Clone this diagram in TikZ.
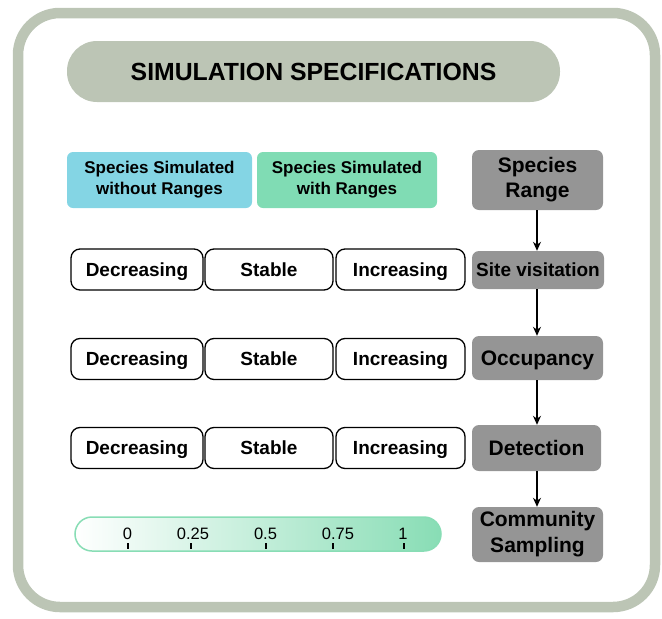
\documentclass[tikz,border=0pt]{standalone}
\usepackage{fontspec}
\setmainfont{Liberation Sans}
\usetikzlibrary{arrows.meta}
\definecolor{frame}{HTML}{BCC5B5}
\definecolor{skyb}{HTML}{84D5E4}
\definecolor{mint}{HTML}{80DCB4}
\definecolor{greyb}{HTML}{959595}
\definecolor{barg}{HTML}{88DDB5}
\begin{document}
\begin{tikzpicture}[x=1pt,y=-1pt,
 wbox/.style={draw=black,line width=1.3pt,rounded corners=9pt,fill=white,inner sep=0pt,
   text height=13.6pt,text depth=0pt,font=\fontsize{19}{21}\selectfont\bfseries},
 gbox/.style={fill=greyb,rounded corners=7pt,inner sep=0pt,align=center,font=\fontsize{21}{25}\selectfont\bfseries},
 onel/.style={text height=15pt,text depth=0pt},
 cbox/.style={rounded corners=6pt,inner sep=0pt,align=center,font=\fontsize{17}{21}\selectfont\bfseries},
 flow/.style={-{Stealth[length=9pt,width=8pt]},line width=1.2pt},
 tickmark/.style={line width=1.8pt},
 ticklab/.style={font=\fontsize{16.5}{18}\selectfont,inner sep=0pt,anchor=base}]
\useasboundingbox (0,0) rectangle (662,619);
\draw[frame,line width=10.5pt,rounded corners=42pt] (18,13) rectangle (655,607);
\node[fill=frame,rounded corners=30pt,minimum width=493pt,minimum height=61pt,inner sep=0pt,
  text height=17.6pt,text depth=0pt,
  font=\fontsize{24.8}{28}\selectfont\bfseries] (title) at (313.5,71.5) {SIMULATION SPECIFICATIONS};
% category boxes
\node[cbox,fill=skyb,minimum width=185pt,minimum height=56pt] (nor) at (159.5,180) {Species Simulated\\without Ranges};
\node[cbox,fill=mint,minimum width=180pt,minimum height=56pt] (wir) at (347,180) {Species Simulated\\with Ranges};
% grey flow
\node[gbox,minimum width=131pt,minimum height=60pt] (sr) at (537.5,180) {Species\\Range};
\node[gbox,onel,text height=13.6pt,minimum width=132pt,minimum height=38pt,font=\fontsize{19}{21}\selectfont\bfseries] (sv) at (538,270) {Site visitation};
\node[gbox,onel,minimum width=131pt,minimum height=44pt] (oc) at (537.5,358) {Occupancy};
\node[gbox,onel,minimum width=129pt,minimum height=46pt] (de) at (536.5,448) {Detection};
\node[gbox,minimum width=131pt,minimum height=55pt,font=\fontsize{21}{26}\selectfont\bfseries] (cs) at (537.5,534.5) {Community\\Sampling};
\draw[flow] (537,210) coordinate (a1) -- (a1 |- sv.north);
\draw[flow] (537,289) coordinate (a2) -- (a2 |- oc.north);
\draw[flow] (537,380) coordinate (a3) -- (a3 |- de.north);
\draw[flow] (537,471) coordinate (a4) -- (a4 |- cs.north);
% rows
\foreach \r/\y in {1/269.5,2/359,3/448}{
  \node[wbox,minimum width=132pt,minimum height=41pt] (dec\r) at (137,\y) {Decreasing};
  \node[wbox,minimum width=128pt,minimum height=41pt] (sta\r) at (269,\y) {Stable};
  \node[wbox,minimum width=129pt,minimum height=41pt] (inc\r) at (400.5,\y) {Increasing};
}
% scale bar
\node[draw=barg,line width=1.5pt,rounded corners=17pt,left color=white,right color=barg,
  minimum width=366pt,minimum height=34pt,inner sep=0pt] (bar) at (258,534) {};
\foreach \x/\lx/\t/\n in {127.7/127.5/0/t0,190.7/193/0.25/t1,265.7/265.5/0.5/t2,332.7/338/0.75/t3,404/403/1/t4}{
  \draw[tickmark] (\x,543) -- (\x,549);
  \node[ticklab] (\n) at (\lx,539) {\t};
}
\end{tikzpicture}
\end{document}
